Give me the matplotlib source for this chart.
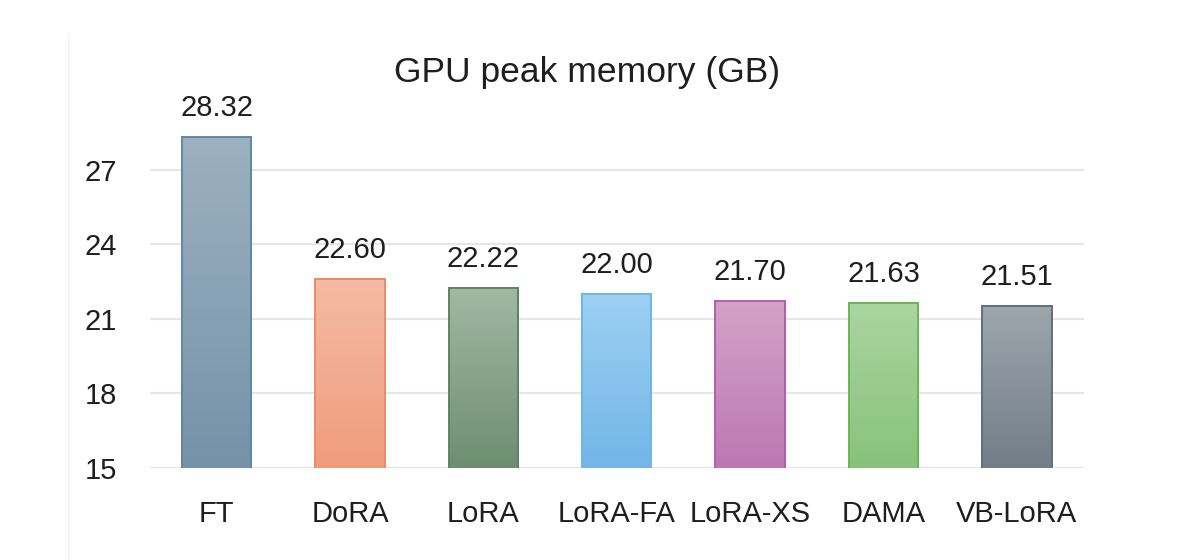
import matplotlib
matplotlib.use("Agg")
import matplotlib.pyplot as plt
import numpy as np
from matplotlib.colors import LinearSegmentedColormap
from matplotlib.lines import Line2D

# data
methods = ["FT", "DoRA", "LoRA", "LoRA-FA", "LoRA-XS", "DAMA", "VB-LoRA"]
peak_mem = [28.32, 22.60, 22.22, 22.00, 21.70, 21.63, 21.51]
yticks = [15, 18, 21, 24, 27]

# gradient colours (top, bottom, edge) per bar
top_colors = ["#9cb1c1", "#f5bba5", "#a2b8a2", "#9dd0f3", "#d3a2c8", "#aad59f", "#9ea6ad"]
bottom_colors = ["#7592a8", "#f09c7c", "#6d8e72", "#72b6e7", "#bc78b3", "#88c27b", "#727d87"]
edge_colors = ["#5f88a6", "#ee8a66", "#5d8462", "#6ab8e8", "#b35db0", "#6bb652", "#5e707d"]

plt.rcParams['font.family'] = ['Liberation Sans', 'DejaVu Sans']

fig = plt.figure(figsize=(12, 5.6), dpi=100)
ax = fig.add_axes([0.125, 0.165, 0.778, 0.665])

x = np.arange(len(methods))
bars = ax.bar(x, peak_mem, width=0.52, bottom=0, color="none", zorder=3)
ax.set_ylim(15, 30)
ax.set_xlim(-0.5, len(methods) - 0.5)

grad = np.linspace(0, 1, 256).reshape(-1, 1)
for i, b in enumerate(bars):
    cmap = LinearSegmentedColormap.from_list("g%d" % i, [bottom_colors[i], top_colors[i]])
    x0 = b.get_x()
    w = b.get_width()
    im = ax.imshow(grad, cmap=cmap, aspect="auto", origin="lower",
                   extent=[x0, x0 + w, 15, peak_mem[i]], zorder=3)
    im.set_clip_path(b)
    b.set_edgecolor(edge_colors[i])
    b.set_linewidth(1.4)
    b.set_zorder(4)
    ax.text(x[i], peak_mem[i] + 0.6, "%.2f" % peak_mem[i], ha="center", va="bottom",
            fontsize=21, color="#1e1e1e")

ax.set_xlim(-0.5, len(methods) - 0.5)
ax.set_ylim(15, 30)
ax.set_yticks(yticks)
ax.set_xticks(x)
ax.set_xticklabels(methods)
ax.tick_params(axis="both", length=0, labelsize=21, colors="#1e1e1e")
ax.tick_params(axis="y", pad=24)
ax.tick_params(axis="x", pad=23)
ax.grid(axis="y", color="#e6e6e6", linewidth=1.5, zorder=0)
ax.set_axisbelow(True)
for s in ax.spines.values():
    s.set_visible(False)

fig.text(0.489, 1 - 82 / 560, "GPU peak memory (GB)", ha="center", va="baseline",
         fontsize=25.5, color="#1e1e1e")

# faint frame line on the left of the original picture
fig.add_artist(Line2D([0.057, 0.057], [0.0, 0.94], color="#f0f0f0", linewidth=1))

fig.savefig("out.png", dpi=100)
